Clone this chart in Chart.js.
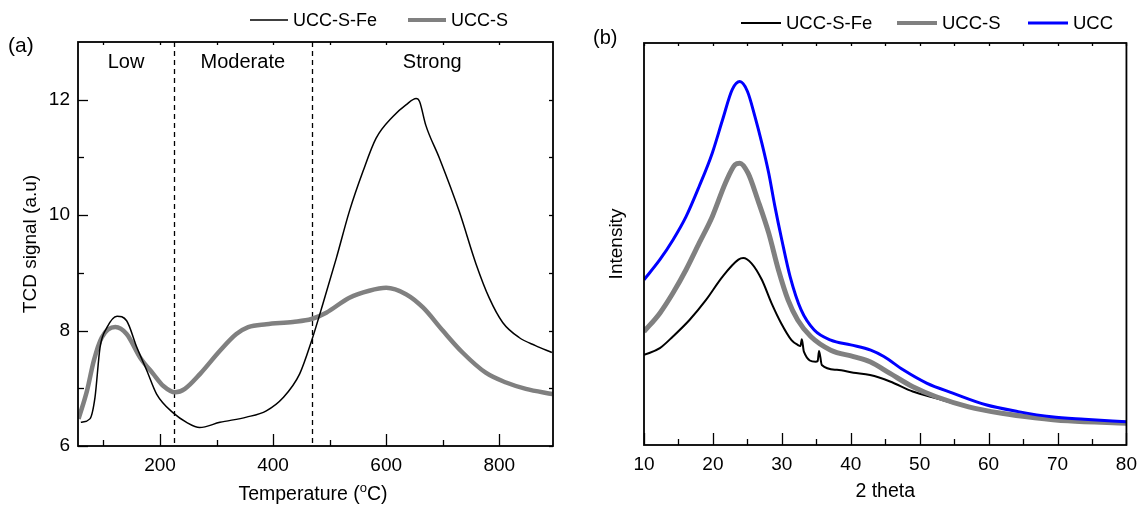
<!DOCTYPE html>
<html>
<head>
<meta charset="utf-8">
<title>TPD and XRD</title>
<script src="https://cdn.jsdelivr.net/npm/chart.js@4.4.1/dist/chart.umd.min.js"></script>
<style>
  html, body { margin: 0; padding: 0; background: #fff; }
  #wrap { position: relative; width: 1145px; height: 506px; }
  #tpdBox { position: absolute; left: 0; top: 0; width: 572px; height: 506px; }
  #xrdBox { position: absolute; left: 572px; top: 0; width: 573px; height: 506px; }
</style>
</head>
<body>
<div id="wrap">
  <div id="tpdBox"><canvas id="tpdChart" width="572" height="506"></canvas></div>
  <div id="xrdBox"><canvas id="xrdChart" width="573" height="506"></canvas></div>
</div>
<script>
// Panel (a) - TPD curves
const tempFe = [60, 76, 85, 94, 106, 124, 141, 159, 177, 194, 225, 247, 270, 306, 353, 388, 418, 447, 468, 488, 512, 535, 559, 582, 612, 635, 653, 659, 670, 694, 729, 759, 782, 806, 835, 864, 893];
const signalFe = [6.41, 6.47, 6.84, 7.71, 8.05, 8.25, 8.17, 7.71, 7.30, 6.90, 6.56, 6.41, 6.32, 6.41, 6.50, 6.61, 6.84, 7.25, 7.82, 8.46, 9.26, 10.07, 10.76, 11.33, 11.71, 11.91, 12.02, 11.97, 11.56, 10.99, 10.07, 9.15, 8.57, 8.14, 7.88, 7.74, 7.62];
const tempS = [56, 71, 83, 97, 121, 141, 165, 188, 206, 227, 244, 271, 306, 335, 356, 388, 435, 468, 494, 535, 570, 600, 635, 665, 700, 735, 776, 812, 847, 894];
const signalS = [6.47, 6.96, 7.48, 7.88, 8.06, 7.94, 7.53, 7.25, 7.04, 6.93, 6.99, 7.25, 7.65, 7.94, 8.06, 8.11, 8.15, 8.20, 8.31, 8.57, 8.69, 8.74, 8.63, 8.40, 8.00, 7.62, 7.27, 7.10, 6.99, 6.90];
const tpdTicksX = [100, 200, 300, 400, 500, 600, 700, 800];
const tpdTicksY = [6, 7, 8, 9, 10, 11, 12];
const regionEdges = [225, 468];
const regionNames = ['Low', 'Moderate', 'Strong'];

// Panel (b) - XRD patterns (arbitrary intensity units)
const twoThetaFe = [10, 12.3, 14.2, 16.6, 19.0, 21.4, 23.7, 24.4, 25.6, 27.1, 28.5, 29.9, 31.4, 32.3, 32.7, 32.9, 33.2, 34.9, 35.2, 35.4, 35.8, 38.0, 40.4, 42.8, 45.7, 49.0, 52.4, 57.1, 61.9, 66.7, 71.5, 80];
const intensityFe = [22.4, 24.1, 27.0, 31.1, 36.1, 41.9, 46.1, 46.5, 45.2, 41.1, 35.3, 30.3, 26.1, 24.9, 24.6, 26.3, 23.2, 20.7, 20.9, 23.4, 19.9, 18.7, 18.0, 17.4, 15.8, 13.3, 11.6, 9.4, 8.0, 6.8, 6.1, 5.5];
const twoThetaS = [10, 12.3, 14.2, 16.1, 18.0, 19.9, 21.8, 23.2, 23.9, 25.1, 26.5, 28.1, 29.5, 30.9, 32.3, 34.2, 37.1, 40.4, 42.8, 45.7, 49.0, 52.4, 57.1, 61.9, 66.7, 71.5, 80];
const intensityS = [28.2, 32.8, 37.8, 43.6, 50.2, 56.8, 65.1, 69.7, 70.1, 67.6, 61.0, 52.7, 43.6, 36.1, 31.1, 27.0, 23.6, 22.0, 20.7, 17.8, 14.5, 12.0, 9.5, 7.9, 6.8, 6.0, 5.4];
const twoThetaUCC = [10, 12.3, 14.2, 16.1, 18.0, 19.9, 21.4, 22.8, 23.9, 25.0, 26.1, 27.1, 28.1, 29.0, 30.0, 31.2, 32.8, 34.7, 37.1, 40.0, 42.9, 44.8, 47.6, 51.0, 54.8, 59.6, 64.3, 69.1, 73.9, 80];
const intensityUCC = [41.1, 46.1, 51.0, 56.8, 64.3, 72.6, 80.9, 88.4, 90.4, 88.0, 81.7, 75.1, 67.6, 59.3, 51.0, 41.9, 33.6, 28.6, 26.1, 24.9, 23.6, 22.0, 18.7, 15.4, 12.9, 10.0, 8.3, 7.0, 6.4, 5.8];
const xrdTicksX = [10, 15, 20, 25, 30, 35, 40, 45, 50, 55, 60, 65, 70, 75, 80];

const FONT = "'Liberation Sans', Arial, sans-serif";
Chart.defaults.font.family = FONT;
Chart.defaults.color = '#000';

function toPoints(xs, ys) {
    return xs.map((x, i) => ({ x: x, y: ys[i] }));
}

// fixed tick lists, "major" ones get a label and a longer tick
function fixedTicks(values, step) {
    return function(scale) {
        scale.ticks = values.map(v => ({ value: v, major: v % step === 0 }));
    };
}

function majorLabel(value, index, ticks) {
    return ticks[index].major ? String(value) : '';
}

// box around the plot area with inward tick marks
const framePlugin = {
    id: 'frame',
    afterDatasetsDraw(chart, args, opts) {
        const { ctx, chartArea: a, scales } = chart;
        const seg = (x1, y1, x2, y2) => {
            ctx.beginPath(); ctx.moveTo(x1, y1); ctx.lineTo(x2, y2); ctx.stroke();
        };
        ctx.save();
        ctx.strokeStyle = '#000';
        ctx.lineWidth = 1.3;
        scales.x.ticks.forEach(t => {
            const px = Math.round(scales.x.getPixelForValue(t.value)) + 0.5;
            seg(px, a.bottom, px, a.bottom - (t.major ? 12 : 6));
            seg(px, a.top, px, a.top + 3);
        });
        if (opts.yTicks) {
            scales.y.ticks.forEach(t => {
                const py = Math.round(scales.y.getPixelForValue(t.value)) + 0.5;
                seg(a.left, py, a.left + (t.major ? 10 : 6), py);
                seg(a.right, py, a.right - 4, py);
            });
        }
        ctx.lineWidth = 1.8;
        ctx.strokeRect(a.left, a.top, a.right - a.left, a.bottom - a.top);
        ctx.restore();
    }
};

// legend row above the plot, line sample + label
const lineLegend = {
    id: 'lineLegend',
    afterDraw(chart, args, opts) {
        const ctx = chart.ctx;
        ctx.save();
        ctx.font = opts.size + 'px ' + FONT;
        ctx.textBaseline = 'middle';
        ctx.fillStyle = '#000';
        opts.x.forEach((x0, i) => {
            const ds = chart.data.datasets[i];
            ctx.strokeStyle = ds.borderColor;
            ctx.lineWidth = Math.min(ds.borderWidth, 4);
            ctx.beginPath();
            ctx.moveTo(x0, opts.y);
            ctx.lineTo(x0 + opts.len, opts.y);
            ctx.stroke();
            ctx.fillText(ds.label, x0 + opts.len + 5, opts.y + 1);
        });
        ctx.restore();
    }
};

// panel letter and other free text
const panelText = {
    id: 'panelText',
    afterDraw(chart, args, opts) {
        const ctx = chart.ctx;
        ctx.save();
        ctx.fillStyle = '#000';
        ctx.textBaseline = 'middle';
        ctx.font = opts.letterSize + 'px ' + FONT;
        ctx.fillText(opts.letter, opts.lx, opts.ly);
        if (opts.xTitle) {
            // Temperature (oC) with superscript o
            const big = '19.5px ' + FONT, small = '13px ' + FONT;
            const p1 = 'Temperature (', p2 = 'o', p3 = 'C)';
            ctx.textBaseline = 'alphabetic';
            ctx.font = big;
            const w1 = ctx.measureText(p1).width, w3 = ctx.measureText(p3).width;
            ctx.font = small;
            const w2 = ctx.measureText(p2).width;
            let x = opts.xTitle.cx - (w1 + w2 + w3) / 2;
            const y = opts.xTitle.y;
            ctx.font = big; ctx.fillText(p1, x, y); x += w1;
            ctx.font = small; ctx.fillText(p2, x, y - 8); x += w2;
            ctx.font = big; ctx.fillText(p3, x, y);
        }
        ctx.restore();
    }
};

// dashed separators and region names for panel (a)
const regionPlugin = {
    id: 'regions',
    beforeDatasetsDraw(chart) {
        const { ctx, chartArea: a, scales } = chart;
        ctx.save();
        ctx.strokeStyle = '#000';
        ctx.lineWidth = 1.3;
        ctx.setLineDash([5, 4]);
        regionEdges.forEach(v => {
            const px = Math.round(scales.x.getPixelForValue(v)) + 0.5;
            ctx.beginPath(); ctx.moveTo(px, a.top); ctx.lineTo(px, a.bottom); ctx.stroke();
        });
        ctx.setLineDash([]);
        const bounds = [scales.x.min].concat(regionEdges, [scales.x.max]);
        ctx.font = '20px ' + FONT;
        ctx.textAlign = 'center';
        ctx.textBaseline = 'middle';
        ctx.fillStyle = '#000';
        regionNames.forEach((name, i) => {
            const mid = (bounds[i] + bounds[i + 1]) / 2;
            ctx.fillText(name, scales.x.getPixelForValue(mid), a.top + 20);
        });
        ctx.restore();
    }
};

function initCharts() {
    // TPD chart
    const tpdCtx = document.getElementById('tpdChart').getContext('2d');
    const tpdChart = new Chart(tpdCtx, {
        type: 'line',
        data: {
            datasets: [{
                label: 'UCC-S-Fe',
                data: toPoints(tempFe, signalFe),
                borderColor: '#000000',
                borderWidth: 1.5,
                order: 0
            }, {
                label: 'UCC-S',
                data: toPoints(tempS, signalS),
                borderColor: '#808080',
                borderWidth: 4.5,
                order: 1
            }]
        },
        options: {
            responsive: false,
            animation: false,
            elements: {
                point: { radius: 0 },
                line: { cubicInterpolationMode: 'monotone', fill: false }
            },
            layout: { padding: { top: 42, right: 19, bottom: 0, left: 0 } },
            scales: {
                x: {
                    type: 'linear',
                    min: 55,
                    max: 895,
                    grid: { display: false, drawTicks: false },
                    border: { display: false },
                    afterBuildTicks: fixedTicks(tpdTicksX, 200),
                    afterFit: s => { s.height = 60; },
                    ticks: { autoSkip: false, maxRotation: 0, padding: 8, font: { size: 19 }, callback: majorLabel }
                },
                y: {
                    type: 'linear',
                    min: 6,
                    max: 13,
                    grid: { display: false, drawTicks: false },
                    border: { display: false },
                    afterBuildTicks: fixedTicks(tpdTicksY, 2),
                    afterFit: s => { s.width = 78; },
                    ticks: { autoSkip: false, padding: 8, font: { size: 19 }, callback: majorLabel },
                    title: { display: true, text: 'TCD signal (a.u)', font: { size: 19 }, padding: { top: 19, bottom: 0 } }
                }
            },
            plugins: {
                legend: { display: false },
                tooltip: { enabled: false },
                frame: { yTicks: true },
                lineLegend: { x: [250, 408], y: 20, len: 38, size: 18 },
                panelText: { letter: '(a)', letterSize: 21, lx: 8, ly: 46, xTitle: { cx: 313, y: 500 } }
            }
        },
        plugins: [regionPlugin, framePlugin, lineLegend, panelText]
    });

    // XRD chart
    const xrdCtx = document.getElementById('xrdChart').getContext('2d');
    const xrdChart = new Chart(xrdCtx, {
        type: 'line',
        data: {
            datasets: [{
                label: 'UCC-S-Fe',
                data: toPoints(twoThetaFe, intensityFe),
                borderColor: '#000000',
                borderWidth: 2,
                order: 2
            }, {
                label: 'UCC-S',
                data: toPoints(twoThetaS, intensityS),
                borderColor: '#808080',
                borderWidth: 5,
                order: 1
            }, {
                label: 'UCC',
                data: toPoints(twoThetaUCC, intensityUCC),
                borderColor: '#0000ff',
                borderWidth: 3,
                order: 0
            }]
        },
        options: {
            responsive: false,
            animation: false,
            elements: {
                point: { radius: 0 },
                line: { cubicInterpolationMode: 'monotone', fill: false }
            },
            layout: { padding: { top: 43, right: 12, bottom: 0, left: 0 } },
            scales: {
                x: {
                    type: 'linear',
                    min: 10,
                    max: 80,
                    grid: { display: false, drawTicks: false },
                    border: { display: false },
                    afterBuildTicks: fixedTicks(xrdTicksX, 10),
                    afterFit: s => { s.height = 61; },
                    ticks: { autoSkip: false, maxRotation: 0, padding: 8, font: { size: 19 }, callback: majorLabel },
                    title: { display: true, text: '2 theta', font: { size: 19.5 }, padding: { top: 0, bottom: 3 } }
                },
                y: {
                    type: 'linear',
                    min: 0,
                    max: 100,
                    grid: { display: false, drawTicks: false },
                    border: { display: false },
                    afterFit: s => { s.width = 72; },
                    ticks: { display: false },
                    title: { display: true, text: 'Intensity', font: { size: 19 }, padding: { top: 33, bottom: 0 } }
                }
            },
            plugins: {
                legend: { display: false },
                tooltip: { enabled: false },
                frame: { yTicks: false },
                lineLegend: { x: [169, 325, 456], y: 23, len: 40, size: 18.5 },
                panelText: { letter: '(b)', letterSize: 20, lx: 21, ly: 38 }
            }
        },
        plugins: [framePlugin, lineLegend, panelText]
    });
}

document.addEventListener('DOMContentLoaded', initCharts);
</script>
</body>
</html>
